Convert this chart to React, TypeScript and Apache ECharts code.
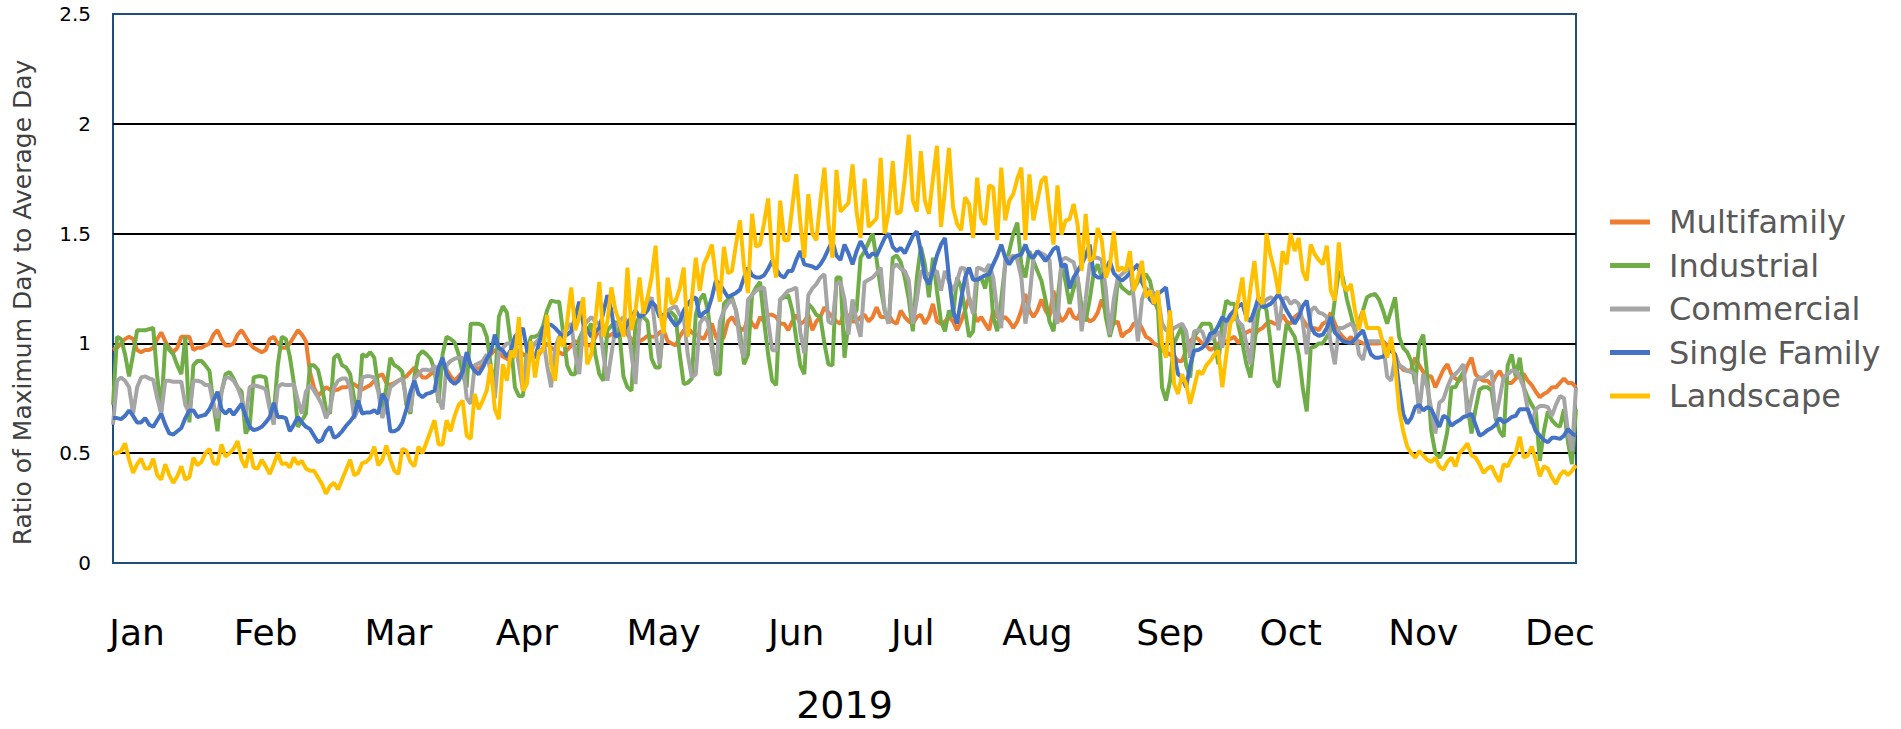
import React, { useEffect, useRef } from "react";
import * as echarts from "echarts";

const seriesNames = ["Multifamily", "Industrial", "Commercial", "Single Family", "Landscape"];
const seriesColors = ["#ED7D31", "#70AD47", "#A5A5A5", "#4472C4", "#FFC000"];

const monthNames = ["Jan", "Feb", "Mar", "Apr", "May", "Jun", "Jul", "Aug", "Sep", "Oct", "Nov", "Dec"];
const monthLabelDays = [6, 38, 71, 103, 137, 170, 199, 230, 263, 293, 326, 360];
const yTicks = [0, 0.5, 1, 1.5, 2, 2.5];

const multifamily = [
  0.97,0.98,1.0,1.02,1.03,1.02,0.97, 0.96,0.97,0.97,0.98,1.02,1.05,1.01, 0.98,0.96,0.98,1.03,1.03,1.03,0.97,
  0.98,0.98,0.99,1.0,1.04,1.06,1.02, 0.99,0.99,1.0,1.04,1.06,1.03,1.0, 0.98,0.97,0.96,0.97,1.02,1.03,1.0,
  0.98,0.98,1.0,1.03,1.06,1.04,1.01, 0.87,0.8,0.76,0.78,0.8,0.79,0.785, 0.79,0.8,0.8,0.81,0.815,0.8,0.79,
  0.8,0.81,0.83,0.85,0.86,0.82,0.81, 0.82,0.83,0.84,
  0.85,0.87,0.89,0.87,0.845,0.845,0.86, 0.87,0.89,0.905,0.88,0.85,0.83,0.85, 0.87,0.9,0.9,0.89,0.885,0.9,0.93,
  0.95,0.97,0.96,0.94,0.93,0.92,0.95, 0.97,0.95,0.94,0.94,0.94,0.95,0.98, 1.0,0.98,0.97,0.96,0.95,0.97,0.99,
  1.01,1.0,1.0,0.99,0.99,1.03,1.06, 1.04,1.03,1.04,1.05,1.06,1.07,1.04, 1.02,1.0,1.01,1.02,1.035,1.03,1.03,
  1.05,1.06,1.01,1.0,0.99,1.03,1.06, 1.07,1.05,1.04,
  1.03,1.02,1.06,1.09,1.03,1.0,1.03, 1.1,1.12,1.09,1.07,1.06,1.12,1.09, 1.07,1.12,1.1,1.13,1.13,1.12,1.09,
  1.09,1.06,1.1,1.13,1.09,1.1,1.13, 1.06,1.1,1.12,1.165,1.14,1.12,1.1, 1.09,1.15,1.12,1.1,1.1,1.12,1.13,
  1.1,1.12,1.165,1.12,1.12,1.13,1.1, 1.09,1.15,1.12,1.1,1.09,1.12,1.13, 1.09,1.12,1.18,1.1,1.09,1.1,1.12,
  1.1,1.06,1.1,1.15,1.21,1.15,1.1, 1.12,1.09,1.06,
  1.15,1.12,1.11,1.12,1.1,1.07,1.1, 1.15,1.225,1.15,1.12,1.15,1.2,1.15, 1.12,1.24,1.15,1.1,1.12,1.16,1.12,
  1.11,1.16,1.12,1.1,1.11,1.14,1.2, 1.14,1.11,1.09,1.1,1.03,1.05,1.06, 1.09,1.1,1.07,1.03,1.02,1.0,0.99,
  0.97,0.96,0.95,0.94,0.92,0.92,0.97, 1.01,1.03,1.02,1.0,0.99,0.97,0.98, 1.0,1.01,1.01,1.02,1.03,1.0,1.03,
  1.05,1.06,1.04,1.06,1.07,1.09,1.1, 1.09,1.09,1.13,
  1.1,1.09,1.12,1.135,1.11,1.08,1.06, 1.07,1.06,1.09,1.1,1.14,1.09,1.05, 1.03,1.01,1.03,1.0,1.01,1.0,1.0,
  1.0,1.0,1.0,1.01,0.99,0.97,0.95, 0.9,0.88,0.875,0.88,0.935,0.9,0.87, 0.85,0.85,0.8,0.84,0.88,0.905,0.86,
  0.84,0.83,0.85,0.9,0.935,0.86,0.84, 0.83,0.83,0.81,0.85,0.875,0.84,0.82, 0.82,0.84,0.86,0.86,0.83,0.81,0.78,
  0.755,0.77,0.78,0.8,0.8,0.82,0.84, 0.82,0.82,0.8,
];

const industrial = [
  0.72,1.03,1.02,0.95,0.85,0.95,1.06, 1.06,1.06,1.065,1.07,0.85,0.69,1.0, 0.97,0.95,0.9,0.86,1.03,0.64,0.9,
  0.92,0.92,0.9,0.875,0.72,0.6,0.78, 0.86,0.87,0.84,0.8,0.78,0.59,0.62, 0.845,0.85,0.85,0.845,0.71,0.68,0.9,
  1.03,1.02,0.94,0.82,0.62,0.65,0.68, 0.9,0.9,0.88,0.8,0.7,0.68,0.935, 0.95,0.9,0.89,0.86,0.75,0.69,0.95,
  0.94,0.96,0.935,0.8,0.68,0.8,0.935, 0.9,0.89,0.87,
  0.72,0.68,0.85,0.945,0.965,0.95,0.93, 0.88,0.73,0.95,1.03,1.02,1.005,0.95, 0.86,0.8,1.09,1.09,1.09,1.08,1.03,
  0.9,0.8,1.12,1.17,1.14,1.0,0.8, 0.76,0.76,0.97,1.03,1.03,1.04,1.08, 1.15,1.195,1.19,1.19,1.05,0.9,0.86,
  0.86,1.02,1.06,1.06,1.09,0.95,0.86, 0.83,1.06,1.08,1.1,1.05,0.85,0.8, 0.785,1.09,1.12,1.12,1.1,0.93,0.89,
  0.89,1.1,1.15,1.14,1.12,0.95,0.815, 0.82,0.84,1.13,
  1.2,1.225,1.15,1.0,0.86,0.86,1.18, 1.2,1.21,1.15,1.05,0.905,0.95,1.22, 1.255,1.28,1.1,0.95,0.83,0.81,1.2,
  1.21,1.22,1.15,1.02,0.9,0.86,1.18, 1.16,1.13,1.12,1.0,0.905,0.9,1.3, 1.3,0.935,1.1,1.12,1.15,1.39,1.42,
  1.46,1.5,1.38,1.25,1.15,1.09,1.39, 1.4,1.37,1.3,1.2,1.055,1.3,1.44, 1.36,1.21,1.39,1.24,1.1,1.055,1.15,
  1.12,1.3,1.255,1.15,1.03,1.055,1.29, 1.3,1.25,1.36,
  1.12,1.055,1.2,1.36,1.42,1.5,1.55, 1.36,1.3,1.42,1.375,1.33,1.285,1.2, 1.1,1.055,1.2,1.36,1.28,1.18,1.25,
  1.3,1.165,1.1,1.2,1.32,1.36,1.3, 1.12,1.03,1.1,1.285,1.255,1.24,1.225, 1.25,1.28,1.3,1.315,1.285,1.2,1.15,
  0.8,0.74,0.83,1.0,1.04,1.08,0.9, 0.845,1.03,1.06,1.09,1.09,1.09,1.02, 0.905,1.1,1.195,1.18,1.18,1.08,1.0,
  0.905,0.845,1.0,1.15,1.195,1.15,1.0, 0.83,0.8,0.95,
  1.09,1.06,1.03,0.95,0.8,0.69,0.98, 0.985,1.0,1.0,1.03,1.06,1.2,1.33, 1.3,1.2,1.13,1.055,1.1,1.15,1.21,
  1.22,1.225,1.2,1.15,1.09,1.15,1.21, 1.03,0.98,0.96,0.92,0.815,1.0,1.04, 0.85,0.6,0.5,0.48,0.51,0.6,0.8,
  0.8,0.84,0.87,0.72,0.59,0.7,0.79, 0.8,0.8,0.785,0.66,0.6,0.575,0.9, 0.95,0.85,0.935,0.8,0.755,0.72,0.69,
  0.465,0.6,0.69,0.65,0.63,0.62,0.7, 0.55,0.45,0.7,
];

const commercial = [
  0.63,0.83,0.845,0.83,0.8,0.68,0.8, 0.845,0.85,0.84,0.835,0.75,0.68,0.83, 0.83,0.825,0.825,0.825,0.72,0.68,0.83,
  0.83,0.825,0.81,0.81,0.72,0.66,0.78, 0.845,0.845,0.83,0.8,0.75,0.66,0.8, 0.81,0.805,0.8,0.79,0.7,0.63,0.8,
  0.815,0.81,0.81,0.815,0.74,0.68,0.78, 0.81,0.785,0.755,0.72,0.66,0.7,0.8, 0.83,0.84,0.84,0.8,0.66,0.7,0.845,
  0.85,0.85,0.845,0.78,0.66,0.72,0.8, 0.815,0.83,0.84,
  0.75,0.69,0.84,0.86,0.88,0.88,0.875, 0.9,0.75,0.7,0.9,0.92,0.93,0.935, 0.935,0.75,0.725,0.9,0.91,0.92,0.95,
  0.87,0.75,0.96,0.98,1.0,1.0,1.01, 0.9,0.785,0.94,0.97,1.0,1.02,1.03, 0.9,0.8,0.98,1.03,1.05,1.07,1.09,
  0.95,0.86,1.08,1.1,1.12,1.1,1.09, 0.95,0.83,0.95,1.07,1.1,1.12,1.1, 0.95,0.815,1.1,1.15,1.18,1.21,1.05,
  0.905,1.1,1.15,1.16,1.17,1.13,1.12, 0.95,0.845,0.86,
  1.09,1.12,1.1,0.97,0.875,1.1,1.15, 1.18,1.2,1.15,1.0,0.935,1.2,1.22, 1.24,1.25,1.255,1.1,0.97,0.967,1.2,
  1.22,1.24,1.245,1.255,1.05,0.955,1.22, 1.25,1.27,1.3,1.315,1.1,1.09,1.27, 1.28,1.2,1.04,1.2,1.1,1.03,1.28,
  1.29,1.3,1.32,1.345,1.15,1.09,1.345, 1.36,1.34,1.33,1.285,1.09,1.2,1.33, 1.32,1.315,1.32,1.33,1.24,1.33,1.28,
  1.24,1.285,1.345,1.34,1.2,1.135,1.345, 1.34,1.33,1.36,
  1.3,1.15,1.07,1.38,1.39,1.4,1.38, 1.3,1.09,1.2,1.39,1.42,1.41,1.4, 1.38,1.15,1.09,1.38,1.39,1.38,1.37,
  1.3,1.055,1.2,1.36,1.39,1.39,1.38, 1.25,1.04,1.2,1.3,1.315,1.33,1.345, 1.2,1.01,1.2,1.25,1.24,1.23,1.21,
  1.09,1.06,1.055,1.07,1.08,1.09,1.055, 0.935,1.055,1.06,1.055,1.0,1.02,1.03, 1.055,0.98,1.1,1.1,1.12,1.1,1.08,
  1.0,0.905,1.15,1.17,1.18,1.2,1.21, 1.2,1.06,1.2,
  1.21,1.18,1.195,1.18,1.1,0.95,1.15, 1.165,1.14,1.135,1.12,1.0,0.905,1.07, 1.07,1.08,1.09,1.07,0.95,0.925,1.01,
  1.01,1.01,1.01,1.0,0.85,0.83,0.935, 0.9,0.89,0.875,0.87,0.86,0.68,0.86, 0.8,0.7,0.59,0.73,0.745,0.8,0.845,
  0.86,0.88,0.905,0.66,0.75,0.83,0.845, 0.845,0.86,0.875,0.66,0.75,0.845,0.86, 0.875,0.875,0.845,0.8,0.7,0.635,0.7,
  0.715,0.715,0.71,0.67,0.72,0.76,0.75, 0.6,0.51,0.8,
];

const singleFamily = [
  0.66,0.66,0.655,0.67,0.695,0.67,0.64, 0.64,0.66,0.63,0.62,0.65,0.68,0.63, 0.59,0.585,0.6,0.615,0.66,0.695,0.695,
  0.665,0.67,0.675,0.7,0.74,0.78,0.7, 0.68,0.7,0.675,0.7,0.725,0.67,0.62, 0.605,0.61,0.62,0.64,0.665,0.73,0.665,
  0.665,0.66,0.6,0.63,0.665,0.64,0.62, 0.61,0.58,0.55,0.56,0.6,0.62,0.57, 0.58,0.6,0.625,0.645,0.67,0.74,0.68,
  0.685,0.685,0.695,0.68,0.77,0.74,0.6, 0.6,0.61,0.64,
  0.7,0.78,0.83,0.77,0.755,0.77,0.775, 0.785,0.89,0.935,0.86,0.83,0.815,0.83, 0.87,0.96,0.9,0.875,0.86,0.89,0.93,
  0.96,1.04,0.98,0.967,0.94,0.97,1.03, 1.05,1.07,0.97,0.95,0.935,1.0,1.07, 1.085,1.085,1.07,1.05,1.03,1.04,1.055,
  1.12,1.19,1.09,1.06,1.03,1.055,1.07, 1.14,1.22,1.15,1.03,1.04,1.055,1.09, 1.12,1.15,1.12,1.13,1.15,1.19,1.17,
  1.12,1.13,1.135,1.105,1.08,1.1,1.15, 1.18,1.2,1.21,
  1.12,1.14,1.15,1.21,1.285,1.27,1.24, 1.21,1.22,1.23,1.245,1.3,1.345,1.31, 1.3,1.3,1.31,1.34,1.375,1.34,1.31,
  1.3,1.33,1.33,1.38,1.42,1.36,1.355, 1.35,1.34,1.36,1.39,1.43,1.465,1.4, 1.38,1.45,1.41,1.36,1.42,1.465,1.43,
  1.39,1.41,1.4,1.44,1.48,1.5,1.44, 1.42,1.435,1.41,1.45,1.49,1.51,1.42, 1.3,1.27,1.33,1.4,1.45,1.48,1.3,
  1.15,1.09,1.2,1.3,1.345,1.29,1.29, 1.3,1.31,1.315,
  1.36,1.4,1.45,1.39,1.36,1.39,1.4, 1.405,1.45,1.4,1.39,1.42,1.4,1.375, 1.4,1.43,1.44,1.35,1.36,1.25,1.3,
  1.33,1.36,1.4,1.45,1.315,1.3,1.3, 1.33,1.375,1.32,1.3,1.285,1.3,1.32, 1.34,1.36,1.28,1.24,1.2,1.18,1.225,
  1.24,1.255,1.12,0.95,0.86,0.845,0.8, 0.9,0.967,0.97,0.98,1.0,1.045,1.05, 1.08,1.12,1.1,1.13,1.15,1.17,1.18,
  1.12,1.1,1.15,1.21,1.165,1.17,1.18, 1.2,1.225,1.19,
  1.15,1.12,1.09,1.12,1.17,1.195,1.08, 1.045,1.035,1.04,1.07,1.12,1.05,1.03, 1.01,1.005,1.0,1.02,1.04,1.06,1.0,
  0.95,0.935,0.935,0.94,0.955,0.97,0.95, 0.8,0.68,0.635,0.66,0.71,0.72,0.695, 0.71,0.7,0.66,0.62,0.67,0.66,0.625,
  0.64,0.65,0.665,0.67,0.68,0.63,0.58, 0.59,0.605,0.615,0.63,0.66,0.64,0.65, 0.665,0.67,0.7,0.7,0.7,0.65,0.6,
  0.58,0.56,0.55,0.57,0.57,0.565,0.58, 0.61,0.59,0.58,
];

const landscape = [
  0.5,0.5,0.51,0.545,0.47,0.41,0.45, 0.475,0.43,0.43,0.475,0.4,0.38,0.45, 0.4,0.365,0.395,0.44,0.38,0.39,0.48,
  0.445,0.46,0.5,0.52,0.455,0.45,0.54, 0.485,0.5,0.52,0.555,0.47,0.435,0.52, 0.435,0.43,0.47,0.44,0.405,0.45,0.5,
  0.45,0.455,0.435,0.48,0.45,0.465,0.43, 0.42,0.42,0.39,0.36,0.315,0.35,0.365, 0.335,0.38,0.425,0.47,0.4,0.41,0.455,
  0.46,0.48,0.53,0.445,0.47,0.535,0.47, 0.42,0.405,0.52,
  0.51,0.46,0.44,0.53,0.5,0.55,0.6, 0.65,0.54,0.54,0.65,0.6,0.67,0.72, 0.74,0.58,0.565,0.77,0.7,0.74,0.785,
  0.905,0.7,0.655,0.905,0.83,0.967,0.935, 1.12,0.785,0.815,1.01,0.845,0.967,0.967, 1.13,0.905,0.83,1.03,0.985,1.1,1.255,
  1.06,1.12,1.21,0.905,0.95,1.1,1.28, 1.03,1.1,1.255,1.15,1.1,1.03,1.345, 1.06,1.15,1.3,1.135,1.21,1.3,1.445,
  1.15,1.045,1.3,1.18,1.195,1.25,1.345, 1.03,1.2,1.39,
  1.24,1.36,1.4,1.45,1.3,1.19,1.44, 1.32,1.33,1.45,1.56,1.35,1.23,1.59, 1.44,1.45,1.55,1.66,1.4,1.3,1.65,
  1.47,1.47,1.62,1.77,1.55,1.39,1.68, 1.5,1.47,1.65,1.8,1.55,1.39,1.79, 1.6,1.62,1.64,1.815,1.6,1.48,1.75,
  1.53,1.55,1.57,1.845,1.5,1.6,1.83, 1.59,1.6,1.75,1.95,1.65,1.6,1.875, 1.65,1.59,1.75,1.9,1.53,1.7,1.89,
  1.62,1.545,1.515,1.665,1.635,1.48,1.755, 1.57,1.54,1.72,
  1.71,1.47,1.8,1.56,1.65,1.68,1.75, 1.8,1.47,1.77,1.56,1.65,1.74,1.76, 1.6,1.45,1.72,1.495,1.56,1.565,1.635,
  1.54,1.33,1.59,1.375,1.39,1.525,1.47, 1.3,1.35,1.51,1.33,1.345,1.33,1.42, 1.24,1.3,1.375,1.21,1.24,1.18,1.24,
  1.0,0.935,1.15,0.815,0.77,0.86,0.815, 0.725,0.8,0.875,0.86,0.9,0.92,0.95, 0.967,0.8,0.95,1.09,1.12,1.2,1.3,
  1.1,1.25,1.375,1.2,1.18,1.5,1.4, 1.33,1.225,1.42,
  1.36,1.5,1.42,1.48,1.33,1.285,1.45, 1.405,1.38,1.36,1.445,1.24,1.195,1.46, 1.27,1.24,1.27,1.15,1.06,1.15,1.07,
  1.07,1.07,1.07,1.0,0.935,1.03,0.9, 0.7,0.6,0.53,0.5,0.48,0.51,0.49, 0.47,0.46,0.48,0.44,0.425,0.46,0.48,
  0.44,0.5,0.52,0.545,0.49,0.48,0.45, 0.41,0.43,0.44,0.4,0.37,0.45,0.44, 0.48,0.5,0.575,0.48,0.49,0.53,0.47,
  0.395,0.44,0.43,0.39,0.36,0.4,0.42, 0.4,0.42,0.445,
];

const seriesValues = [multifamily, industrial, commercial, singleFamily, landscape];

function buildDays(): string[] {
  const out: string[] = [];
  const start = Date.UTC(2019, 0, 1);
  for (let i = 0; i < 365; i++) {
    const d = new Date(start + i * 86400000);
    out.push(d.toISOString().slice(0, 10));
  }
  return out;
}

const FONT = "'DejaVu Sans', sans-serif";

export default function App() {
  const ref = useRef<HTMLDivElement>(null);
  useEffect(() => {
    if (!ref.current) return;
    const chart = echarts.init(ref.current, undefined, { renderer: "svg" });
    const days = buildDays();
    chart.setOption({
      animation: false,
      backgroundColor: "#ffffff",
      grid: {
        left: 113,
        right: 325,
        top: 14,
        bottom: 165,
        show: true,
        borderColor: "#1F4E79",
        borderWidth: 2,
        backgroundColor: "transparent",
      },
      legend: {
        orient: "vertical",
        left: 1605,
        top: 200,
        icon: "rect",
        itemWidth: 40,
        itemHeight: 5,
        itemGap: 9.5,
        data: seriesNames,
        textStyle: {
          fontFamily: FONT,
          fontSize: 32,
          color: "#595959",
          lineHeight: 34,
          padding: [0, 0, 0, 14],
        },
      },
      xAxis: {
        type: "category",
        data: days,
        boundaryGap: false,
        name: "2019",
        nameLocation: "middle",
        nameGap: 123,
        nameTextStyle: { fontFamily: FONT, fontSize: 38, color: "#000000" },
        axisLine: { show: false },
        axisTick: { show: false },
        splitLine: { show: false },
        axisLabel: {
          margin: 51,
          fontFamily: FONT,
          fontSize: 36,
          color: "#000000",
          interval: (index: number) => monthLabelDays.indexOf(index) >= 0,
          formatter: (_v: string, index: number) => {
            const k = monthLabelDays.indexOf(index);
            return k >= 0 ? monthNames[k] : "";
          },
        },
      },
      yAxis: {
        type: "value",
        min: yTicks[0],
        max: yTicks[yTicks.length - 1],
        interval: 0.5,
        name: "Ratio of Maximum Day to Average Day",
        nameLocation: "middle",
        nameRotate: 90,
        nameGap: 78,
        nameTextStyle: {
          fontFamily: FONT,
          fontSize: 25,
          color: "#404040",
          padding: [0, 28, 0, 0],
        },
        axisLine: { show: false },
        axisTick: { show: false },
        axisLabel: {
          margin: 22,
          fontFamily: FONT,
          fontSize: 20,
          color: "#000000",
        },
        splitLine: {
          show: true,
          showMinLine: false,
          showMaxLine: false,
          lineStyle: { color: "#000000", width: 2 },
        },
      },
      series: seriesNames.map((name, i) => ({
        name,
        type: "line",
        data: seriesValues[i],
        showSymbol: false,
        symbol: "none",
        color: seriesColors[i],
        lineStyle: { color: seriesColors[i], width: 4 },
        itemStyle: { color: seriesColors[i] },
        z: 2 + i,
      })),
    });
    return () => chart.dispose();
  }, []);
  return (
    <div
      ref={ref}
      style={{ position: "fixed", left: 0, top: 0, width: 1901, height: 729, background: "#fff" }}
    />
  );
}
